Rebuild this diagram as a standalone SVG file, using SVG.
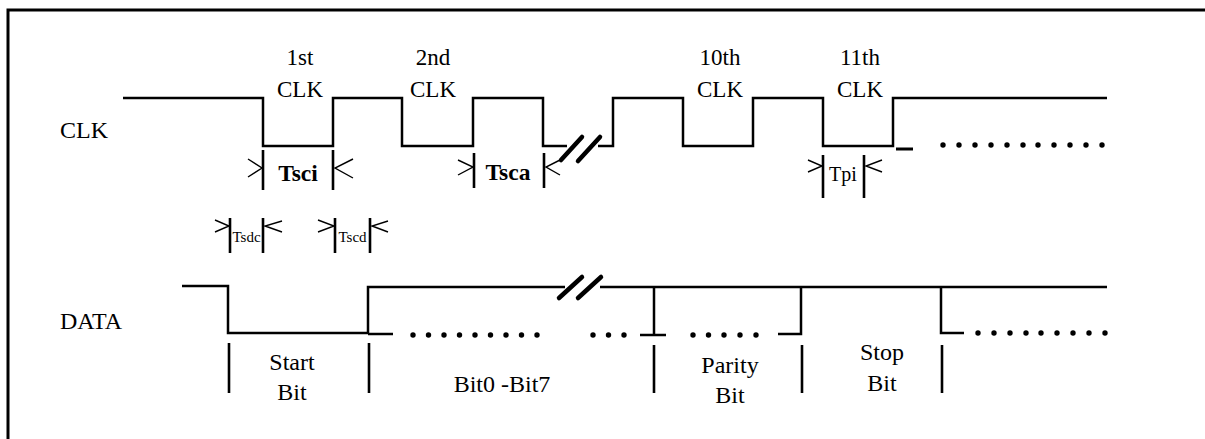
<svg xmlns="http://www.w3.org/2000/svg" width="1205" height="439" viewBox="0 0 1205 439">
<style>
.t{font-family:"Liberation Serif","Times New Roman",serif;fill:#000}
.w{fill:none;stroke:#000;stroke-width:2.5;stroke-linecap:butt;stroke-linejoin:miter}
.bar{stroke:#000;stroke-width:2.6}
.ar{fill:none;stroke:#000;stroke-width:1.4}
.sl{stroke:#000;stroke-width:4.5;stroke-linecap:round}
.dot circle{fill:#000}
</style>
<rect width="1205" height="439" fill="#fff"/>
<g id="frame">
<path d="M8,439 V10 H1205" fill="none" stroke="#000" stroke-width="3"/>
</g>
<g id="labels">
<text class="t" x="60" y="138" font-size="24">CLK</text>
<text class="t" x="60" y="329" font-size="24">DATA</text>
<text class="t" x="300" y="65" font-size="23" text-anchor="middle">1st</text>
<text class="t" x="300" y="97" font-size="23" text-anchor="middle">CLK</text>
<text class="t" x="433" y="65" font-size="23" text-anchor="middle">2nd</text>
<text class="t" x="433" y="97" font-size="23" text-anchor="middle">CLK</text>
<text class="t" x="720" y="65" font-size="23" text-anchor="middle">10th</text>
<text class="t" x="720" y="97" font-size="23" text-anchor="middle">CLK</text>
<text class="t" x="860" y="65" font-size="23" text-anchor="middle">11th</text>
<text class="t" x="860" y="97" font-size="23" text-anchor="middle">CLK</text>
</g>
<g id="clk-signal">
<path class="w" d="M123,98 H263 V146 H333 V98 H402 V146 H473 V98 H543 V146 H567"/>
<path class="w" d="M598,146 H613 V98 H683 V146 H753 V98 H823 V146 H893 V98 H1107"/>
<line class="sl" x1="561" y1="160" x2="582" y2="137"/>
<line class="sl" x1="578" y1="161" x2="600" y2="137"/>
<line x1="896" y1="149" x2="913" y2="149" stroke="#000" stroke-width="3"/>
<g class="dot">
<circle cx="943" cy="145" r="2.7"/><circle cx="959" cy="145" r="2.7"/><circle cx="975" cy="145" r="2.7"/><circle cx="991" cy="145" r="2.7"/><circle cx="1007" cy="145" r="2.7"/><circle cx="1023" cy="145" r="2.7"/><circle cx="1038" cy="145" r="2.7"/><circle cx="1054" cy="145" r="2.7"/><circle cx="1070" cy="145" r="2.7"/><circle cx="1086" cy="145" r="2.7"/><circle cx="1102" cy="145" r="2.7"/>
</g>
</g>
<g id="tsci">
<line class="bar" x1="263" y1="150" x2="263" y2="190"/>
<line class="bar" x1="333" y1="150" x2="333" y2="190"/>
<polyline class="ar" points="248,159 262,168 248,177"/>
<polyline class="ar" points="353,159 335,168 353,178"/>
<text class="t" x="298" y="181" font-size="23.5" font-weight="bold" text-anchor="middle">Tsci</text>
</g>
<g id="tsca">
<line class="bar" x1="474" y1="153" x2="474" y2="188"/>
<line class="bar" x1="544" y1="153" x2="544" y2="188"/>
<polyline class="ar" points="458,160 473,167 458,175"/>
<polyline class="ar" points="560,160 546,167 560,175"/>
<text class="t" x="508" y="180" font-size="23.5" font-weight="bold" text-anchor="middle">Tsca</text>
</g>
<g id="tpi">
<line class="bar" x1="823" y1="155" x2="823" y2="198"/>
<line class="bar" x1="864" y1="155" x2="864" y2="198"/>
<polyline class="ar" points="808,160 822,166 808,172"/>
<polyline class="ar" points="882,160 866,166 882,172"/>
<text class="t" x="843" y="181" font-size="20" text-anchor="middle">Tpi</text>
</g>
<g id="tsdc">
<line class="bar" x1="230" y1="218" x2="230" y2="253"/>
<line class="bar" x1="263" y1="218" x2="263" y2="253"/>
<polyline class="ar" points="215,220 229,226 215,232"/>
<polyline class="ar" points="282,221 265,226 282,232"/>
<text class="t" x="246.5" y="242" font-size="15" text-anchor="middle">Tsdc</text>
</g>
<g id="tscd">
<line class="bar" x1="335" y1="218" x2="335" y2="253"/>
<line class="bar" x1="370" y1="218" x2="370" y2="253"/>
<polyline class="ar" points="318,220 334,226 318,232"/>
<polyline class="ar" points="388,221 372,226 388,232"/>
<text class="t" x="352.5" y="242" font-size="15" text-anchor="middle">Tscd</text>
</g>
<g id="data-signal">
<path class="w" d="M182,286 H228 V333 H368 V287 H565"/>
<path class="w" d="M600,287 H1107"/>
<path class="w" d="M368,334 H393"/>
<line class="sl" x1="559" y1="298" x2="582" y2="277"/>
<line class="sl" x1="578" y1="298" x2="601" y2="277"/>
<path class="w" d="M654,287 V335 M640,335 H666"/>
<path class="w" d="M801,287 V334 H778"/>
<path class="w" d="M941,287 V333 H964"/>
<g class="dot">
<circle cx="413" cy="335" r="2.7"/><circle cx="428.5" cy="335" r="2.7"/><circle cx="444" cy="335" r="2.7"/><circle cx="459.5" cy="335" r="2.7"/><circle cx="475" cy="335" r="2.7"/><circle cx="490.5" cy="335" r="2.7"/><circle cx="506" cy="335" r="2.7"/><circle cx="521.5" cy="335" r="2.7"/><circle cx="537" cy="335" r="2.7"/>
<circle cx="593" cy="335" r="2.7"/><circle cx="608.5" cy="335" r="2.7"/><circle cx="624" cy="335" r="2.7"/>
<circle cx="693" cy="335" r="2.7"/><circle cx="708.5" cy="335" r="2.7"/><circle cx="724" cy="335" r="2.7"/><circle cx="740" cy="335" r="2.7"/><circle cx="756" cy="335" r="2.7"/>
<circle cx="978" cy="333" r="2.7"/><circle cx="994" cy="333" r="2.7"/><circle cx="1010" cy="333" r="2.7"/><circle cx="1026" cy="333" r="2.7"/><circle cx="1041" cy="333" r="2.7"/><circle cx="1057" cy="333" r="2.7"/><circle cx="1073" cy="333" r="2.7"/><circle cx="1089" cy="333" r="2.7"/><circle cx="1105" cy="333" r="2.7"/>
</g>
</g>
<g id="fields">
<line class="bar" x1="229" y1="343" x2="229" y2="393"/>
<line class="bar" x1="369" y1="343" x2="369" y2="393"/>
<line class="bar" x1="654" y1="345" x2="654" y2="393"/>
<line class="bar" x1="802" y1="345" x2="802" y2="393"/>
<line class="bar" x1="942" y1="345" x2="942" y2="393"/>
<text class="t" x="292" y="370" font-size="24" text-anchor="middle">Start</text>
<text class="t" x="292" y="400" font-size="24" text-anchor="middle">Bit</text>
<text class="t" x="502" y="392" font-size="24" text-anchor="middle">Bit0 -Bit7</text>
<text class="t" x="730" y="373" font-size="24" text-anchor="middle">Parity</text>
<text class="t" x="730" y="403" font-size="24" text-anchor="middle">Bit</text>
<text class="t" x="882" y="360" font-size="24" text-anchor="middle">Stop</text>
<text class="t" x="882" y="391" font-size="24" text-anchor="middle">Bit</text>
</g>
</svg>
